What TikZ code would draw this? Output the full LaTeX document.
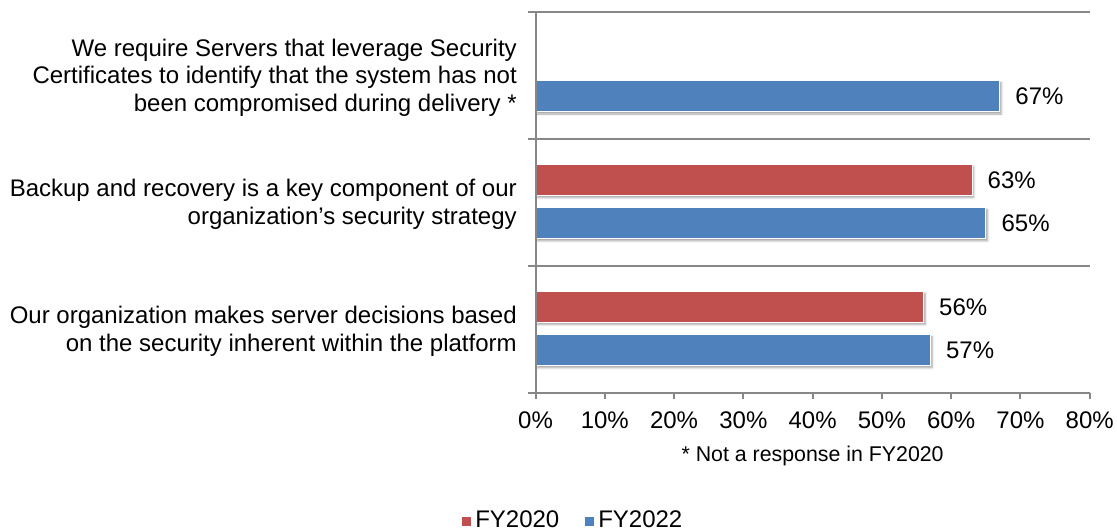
\documentclass[tikz,border=0pt]{standalone}
\usepackage{fontspec}
\setmainfont{Liberation Sans}
\usetikzlibrary{shadows.blur}
\definecolor{fyold}{HTML}{C0504D}
\definecolor{fynew}{HTML}{4F81BD}
\definecolor{axisgray}{HTML}{878787}
% x position of a percentage value on the value axis (0% at 535.5, 10% = 69.275)
\newcommand{\pctx}[1]{535.5+#1*6.9275}
\tikzset{
  gridrule/.style={draw=axisgray, line width=1.5pt},
  bar/.style={draw=white, line width=0.6pt,
    blur shadow={shadow xshift=1.4pt, shadow yshift=-1.6pt,
                 shadow blur radius=1.5pt, shadow opacity=35}},
  oldbar/.style={bar, fill=fyold},
  newbar/.style={bar, fill=fynew},
  txt/.style={font=\fontsize{18}{20.6}\selectfont, inner sep=0pt, text=black},
  valuelabel/.style={txt, anchor=base west},
  ticklabel/.style={txt, anchor=base},
  catlabel/.style={txt, anchor=east, align=right},
  keybox/.style={draw=white, line width=0.4pt, minimum size=7.5pt, inner sep=0pt},
}
\begin{document}
\begin{tikzpicture}[x=0.75pt, y=-0.75pt]
\useasboundingbox (0,0) rectangle (1117,531);

% category separators and value axis
\draw[gridrule] (528,12) -- (1089.7,12);
\draw[gridrule] (528,138.83) -- (1089.7,138.83);
\draw[gridrule] (528,265.67) -- (1089.7,265.67);

% bars: top category
\path[newbar] (535.5,80.7) rectangle ({\pctx{67}},111.9);
% middle category
\path[oldbar] (535.5,164.3) rectangle ({\pctx{63}},195.6);
\path[newbar] (535.5,207.5) rectangle ({\pctx{65}},238.8);
% bottom category
\path[oldbar] (535.5,291.2) rectangle ({\pctx{56}},322.5);
\path[newbar] (535.5,334.4) rectangle ({\pctx{57}},365.7);

% axes
\draw[gridrule] (528,392.5) -- (1089.7,392.5);
\draw[gridrule] (535.5,12) -- (535.5,399);
\foreach \p in {10,20,...,80}
  \draw[gridrule] ({\pctx{\p}},392.5) -- ({\pctx{\p}},399);

% value labels
\node[valuelabel] (v67) at ({\pctx{67}+15.5},105) {67\%};
\node[valuelabel] (v63) at ({\pctx{63}+15.5},188.6) {63\%};
\node[valuelabel] (v65) at ({\pctx{65}+15.5},231.8) {65\%};
\node[valuelabel] (v56) at ({\pctx{56}+15.5},315.5) {56\%};
\node[valuelabel] (v57) at ({\pctx{57}+15.5},358.7) {57\%};

% tick labels
\foreach \p in {0,10,...,80}
  \node[ticklabel] (t\p) at ({\pctx{\p}},428.3) {\p\%};

% category labels
\node[catlabel] (c1) at (517,77.4)
  {We require Servers that leverage Security\\
   Certificates to identify that the system has not\\
   been compromised during delivery *};
\node[catlabel] (c2) at (517,204.3)
  {Backup and recovery is a key component of our\\
   organization’s security strategy};
\node[catlabel] (c3) at (517,331.1)
  {Our organization makes server decisions based\\
   on the security inherent within the platform};

% footnote
\node[txt, font=\fontsize{16}{19}\selectfont, anchor=base] (note) at (812.6,461.7)
  {* Not a response in FY2020};

% legend
\node[keybox, fill=fyold] (k1) at (466,521.5) {};
\node[txt, anchor=base west] (l1) at (475,527.5) {FY2020};
\node[keybox, fill=fynew] (k2) at (589,521.5) {};
\node[txt, anchor=base west] (l2) at (598,527.5) {FY2022};
\end{tikzpicture}
\end{document}
